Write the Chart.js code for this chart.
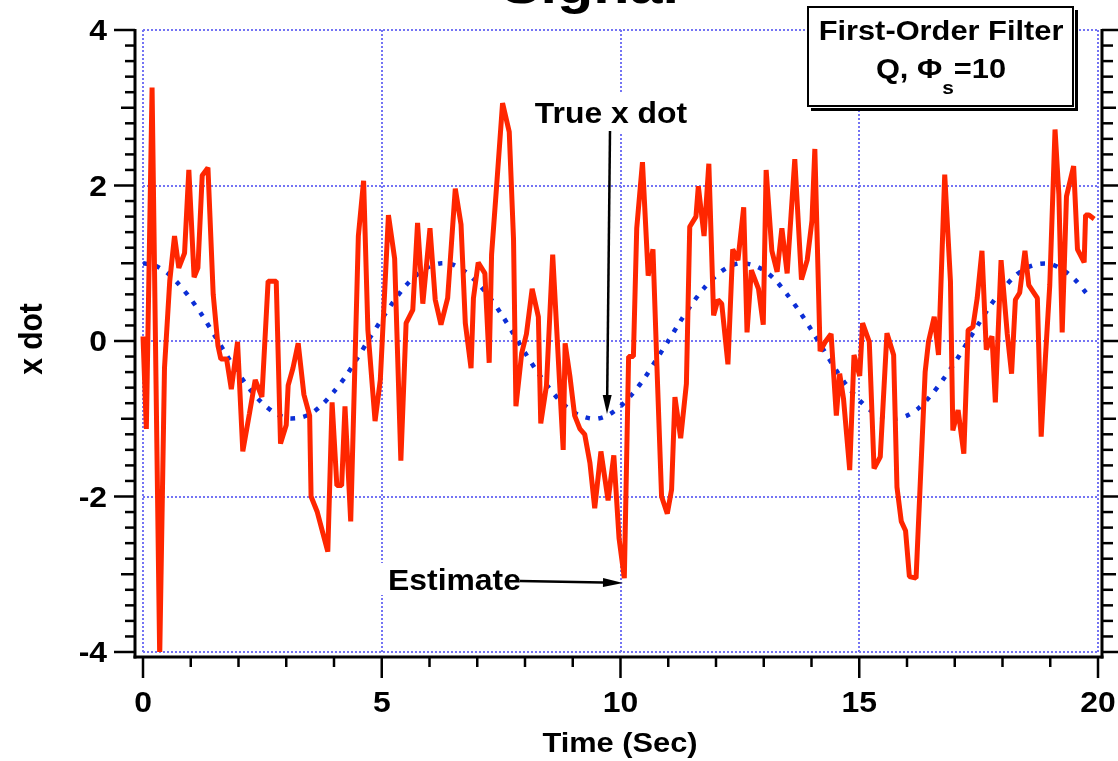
<!DOCTYPE html>
<html>
<head>
<meta charset="utf-8">
<script src="https://cdn.jsdelivr.net/npm/chart.js@4.4.1/dist/chart.umd.min.js"></script>
<style>
  html, body { margin: 0; padding: 0; background: #fff; }
  #wrap { width: 1118px; height: 761px; position: relative; }
</style>
</head>
<body>
<div id="wrap"><canvas id="c"></canvas></div>
<script>
// Filtered estimate of x dot (s) and its values
const estTime = [0.00,0.07,0.19,0.35,0.45,0.56,0.66,0.75,0.87,0.96,
  1.07,1.15,1.24,1.36,1.47,1.57,1.63,1.75,1.85,1.98,
  2.09,2.23,2.35,2.49,2.62,2.79,2.88,3.00,3.04,3.14,
  3.25,3.37,3.49,3.52,3.65,3.87,3.96,4.06,4.16,4.23,
  4.35,4.51,4.62,4.71,4.86,4.97,5.14,5.27,5.40,5.51,
  5.65,5.75,5.86,6.01,6.12,6.24,6.38,6.54,6.66,6.75,
  6.87,6.92,7.02,7.16,7.25,7.30,7.41,7.53,7.67,7.76,
  7.81,7.93,8.03,8.15,8.28,8.33,8.45,8.58,8.80,8.84,
  8.94,9.04,9.15,9.25,9.36,9.46,9.59,9.74,9.86,9.97,
  10.08,10.17,10.27,10.34,10.46,10.58,10.68,10.77,10.86,10.98,
  11.07,11.14,11.26,11.38,11.45,11.58,11.63,11.75,11.85,11.95,
  12.04,12.12,12.25,12.35,12.46,12.58,12.65,12.74,12.89,12.99,
  13.05,13.17,13.28,13.38,13.49,13.65,13.79,13.91,14.01,14.07,
  14.18,14.29,14.41,14.52,14.59,14.67,14.80,14.89,15.01,15.07,
  15.21,15.31,15.44,15.58,15.72,15.79,15.88,15.97,16.05,16.19,
  16.38,16.45,16.57,16.66,16.79,16.91,16.96,17.07,17.19,17.28,
  17.38,17.47,17.57,17.66,17.78,17.85,17.97,18.10,18.19,18.27,
  18.36,18.47,18.55,18.73,18.81,18.90,18.99,19.10,19.18,19.25,
  19.34,19.49,19.57,19.71,19.74,19.81,19.92];
const estValue = [0.06,-1.13,3.26,-4.05,-0.35,0.77,1.35,0.94,1.13,2.20,
  0.82,0.94,2.13,2.23,0.60,-0.06,-0.23,-0.23,-0.62,-0.01,
  -1.42,-0.93,-0.50,-0.72,0.77,0.77,-1.32,-1.08,-0.57,-0.35,
  -0.03,-0.69,-0.96,-2.00,-2.20,-2.71,-0.79,-1.86,-1.86,-0.84,
  -2.32,1.35,2.06,0.14,-1.03,-0.50,1.62,1.06,-1.54,0.23,
  0.40,1.52,0.48,1.45,0.53,0.21,0.55,1.96,1.50,0.23,
  -0.35,0.55,1.01,0.87,-0.28,1.11,2.03,3.06,2.69,1.30,
  -0.84,-0.16,0.09,0.67,0.31,-1.06,-0.57,1.11,-1.40,-0.03,
  -0.45,-0.96,-1.13,-1.20,-1.57,-2.15,-1.42,-2.05,-1.47,-2.54,
  -3.05,-0.20,-0.20,1.45,2.30,0.84,1.18,-0.45,-2.00,-2.22,
  -1.91,-0.72,-1.25,-0.55,1.47,1.60,1.99,1.35,2.28,0.33,
  0.53,0.48,-0.30,1.18,1.04,1.72,0.11,0.91,0.67,0.21,
  2.20,1.16,0.89,1.45,0.87,2.34,0.79,1.04,1.55,2.47,
  -0.13,-0.01,0.09,-0.96,-0.42,-0.74,-1.66,-0.18,-0.45,0.23,
  -0.01,-1.64,-1.49,0.10,-0.18,-1.88,-2.32,-2.44,-3.03,-3.05,
  -0.40,-0.01,0.31,-0.18,2.14,0.77,-1.15,-0.89,-1.45,0.14,
  0.18,0.55,1.16,-0.11,0.06,-0.79,1.04,0.09,-0.42,0.53,
  0.62,1.16,0.72,0.55,-1.23,-0.20,0.72,2.72,1.89,0.11,
  1.86,2.25,1.18,1.01,1.62,1.62,1.57];

// True x dot (s) and its values
const trueTime = [0,0.25,0.5,0.75,1,1.25,1.5,1.75,2,2.25,
  2.5,2.75,3,3.25,3.5,3.75,4,4.25,4.5,4.75,
  5,5.25,5.5,5.75,6,6.25,6.5,6.75,7,7.25,
  7.5,7.75,8,8.25,8.5,8.75,9,9.25,9.5,9.75,
  10,10.25,10.5,10.75,11,11.25,11.5,11.75,12,12.25,
  12.5,12.75,13,13.25,13.5,13.75,14,14.25,14.5,14.75,
  15,15.25,15.5,15.75,16,16.25,16.5,16.75,17,17.25,
  17.5,17.75,18,18.25,18.5,18.75,19,19.25,19.5,19.75];
const trueValue = [1.00,0.97,0.88,0.73,0.54,0.32,0.07,-0.18,-0.42,-0.63,
  -0.80,-0.92,-0.99,-0.99,-0.94,-0.82,-0.65,-0.45,-0.21,0.04,
  0.28,0.51,0.71,0.86,0.96,1.00,0.98,0.89,0.75,0.57,
  0.35,0.10,-0.15,-0.39,-0.60,-0.78,-0.91,-0.98,-1.00,-0.95,
  -0.84,-0.68,-0.48,-0.24,0.00,0.25,0.48,0.68,0.84,0.95,
  1.00,0.98,0.91,0.78,0.59,0.38,0.14,-0.11,-0.36,-0.58,
  -0.76,-0.90,-0.98,-1.00,-0.96,-0.86,-0.70,-0.50,-0.28,-0.03,
  0.22,0.46,0.66,0.83,0.94,0.99,0.99,0.92,0.80,0.62];

// Axis ticks and labels
const xMajorTicks = [0, 5, 10, 15, 20];
const xTickLabels = ['0', '5', '10', '15', '20'];
const yMajorTicks = [-4, -2, 0, 2, 4];
const yTickLabels = ['-4', '-2', '0', '2', '4'];

// Texts
const chartTitle = 'Signal';
const xTitle = 'Time (Sec)';
const yTitle = 'x dot';
const boxLine1 = 'First-Order Filter';
const boxLine2 = ['Q, \u03A6', 's', '=10'];
const noteTrue = 'True x dot';
const noteEst = 'Estimate';

const FONT = '"Liberation Sans", Arial, Helvetica, sans-serif';
const SX = 1.1; // horizontal widening of the lettering

function drawText(ctx, s, x, y, size, align, rot) {
  ctx.save();
  ctx.translate(x, y);
  if (rot) { ctx.rotate(rot); ctx.scale(1, SX); } else { ctx.scale(SX, 1); }
  ctx.font = 'bold ' + size + 'px ' + FONT;
  ctx.textAlign = align;
  ctx.textBaseline = 'alphabetic';
  ctx.fillStyle = '#000';
  ctx.fillText(s, 0, 0);
  ctx.restore();
}
function textWidth(ctx, s, size) {
  ctx.save();
  ctx.font = 'bold ' + size + 'px ' + FONT;
  const w = ctx.measureText(s).width * SX;
  ctx.restore();
  return w;
}
function seg(ctx, x1, y1, x2, y2) {
  ctx.beginPath(); ctx.moveTo(x1, y1); ctx.lineTo(x2, y2); ctx.stroke();
}
function arrow(ctx, x1, y1, x2, y2, len, half) {
  const a = Math.atan2(y2 - y1, x2 - x1);
  const bx = x2 - len * Math.cos(a), by = y2 - len * Math.sin(a);
  ctx.save();
  ctx.strokeStyle = '#000'; ctx.fillStyle = '#000'; ctx.lineWidth = 2.5;
  seg(ctx, x1, y1, bx, by);
  ctx.beginPath();
  ctx.moveTo(x2, y2);
  ctx.lineTo(bx + half * Math.sin(a), by - half * Math.cos(a));
  ctx.lineTo(bx - half * Math.sin(a), by + half * Math.cos(a));
  ctx.closePath(); ctx.fill();
  ctx.restore();
}

// Axes frame, tick marks, labels and notes
const framePlugin = {
  id: 'frame',
  afterDraw(chart) {
    const ctx = chart.ctx;
    const xs = chart.scales.x, ys = chart.scales.y, ca = chart.chartArea;
    const axL = ca.left - 8, axB = ca.bottom + 5, axR = ca.right + 4;
    ctx.save();
    ctx.strokeStyle = '#000';
    ctx.lineCap = 'butt';
    ctx.lineWidth = 3;
    seg(ctx, axL, ca.top - 1, axL, axB + 1.5);
    seg(ctx, axL - 1.5, axB, axR + 1.5, axB);
    seg(ctx, axR, ca.top - 1, axR, axB + 1.5);

    ctx.lineWidth = 2.5;
    for (let k = -20; k <= 20; k++) {
      const py = ys.getPixelForValue(k / 5);
      const major = k % 10 === 0, mid = !major && k % 5 === 0;
      const l = major ? 21 : (mid ? 14 : 10);
      const r = major ? 20 : (mid ? 14 : 11);
      seg(ctx, axL - l, py, axL, py);
      seg(ctx, axR, py, axR + r, py);
    }
    for (let t = 0; t <= 20; t++) {
      const px = xs.getPixelForValue(t);
      seg(ctx, px, axB, px, axB + (t % 5 === 0 ? 21 : 10));
    }
    ctx.restore();

    yMajorTicks.forEach((v, i) => drawText(ctx, yTickLabels[i], ca.left - 36, ys.getPixelForValue(v) + 10, 29, 'right'));
    xMajorTicks.forEach((v, i) => drawText(ctx, xTickLabels[i], xs.getPixelForValue(v), 712, 29, 'center'));

    drawText(ctx, xTitle, 620, 752, 28, 'center');
    drawText(ctx, yTitle, 42, 339, 30, 'center', -Math.PI / 2);
    drawText(ctx, chartTitle, 590, 3, 54, 'center');

    // legend box with drop shadow
    ctx.save();
    ctx.fillStyle = '#000';
    ctx.fillRect(811, 10, 267, 101);
    ctx.fillStyle = '#fff';
    ctx.fillRect(807, 6, 268, 102);
    ctx.strokeStyle = '#000'; ctx.lineWidth = 2;
    ctx.strokeRect(808, 7, 265, 99);
    ctx.restore();
    drawText(ctx, boxLine1, 941, 40, 28, 'center');
    const w1 = textWidth(ctx, boxLine2[0], 28), w2 = textWidth(ctx, boxLine2[1], 19), w3 = textWidth(ctx, boxLine2[2], 28);
    let sx = 941 - (w1 + w2 + w3) / 2;
    drawText(ctx, boxLine2[0], sx, 78, 28, 'left'); sx += w1;
    drawText(ctx, boxLine2[1], sx, 94, 19, 'left'); sx += w2;
    drawText(ctx, boxLine2[2], sx, 78, 28, 'left');

    // notes with arrows
    ctx.save();
    ctx.fillStyle = '#fff';
    ctx.fillRect(531, 93, 161, 39);
    ctx.fillRect(379, 563, 146, 32);
    ctx.restore();
    drawText(ctx, noteTrue, 611, 123, 29, 'center');
    arrow(ctx, 610, 131, 607, 414, 19, 4.5);
    drawText(ctx, noteEst, 388, 590, 29, 'left');
    arrow(ctx, 520, 581, 623, 583, 20, 4.5);
  }
};

const estPoints = estTime.map((t, i) => ({ x: t, y: estValue[i] }));
const truePoints = trueTime.map((t, i) => ({ x: t, y: trueValue[i] }));

const gridColor = '#7474f4';

new Chart(document.getElementById('c'), {
  type: 'line',
  data: {
    datasets: [
      {
        label: noteEst,
        data: estPoints,
        borderColor: '#ff2600',
        borderWidth: 5,
        borderJoinStyle: 'bevel',
        pointRadius: 0,
        tension: 0,
        clip: { left: 4, right: 4, top: 4, bottom: 0 },
        order: 0
      },
      {
        label: noteTrue,
        data: truePoints,
        borderColor: '#0c2ed6',
        borderWidth: 4.5,
        borderDash: [4.5, 8.5],
        borderCapStyle: 'butt',
        pointRadius: 0,
        tension: 0.3,
        order: 1
      }
    ]
  },
  options: {
    responsive: true,
    maintainAspectRatio: false,
    animation: false,
    events: [],
    layout: { padding: { top: 30, right: 20, left: 0, bottom: 0 } },
    plugins: { legend: { display: false }, tooltip: { enabled: false } },
    scales: {
      x: {
        type: 'linear', min: 0, max: 20,
        afterBuildTicks: s => { s.ticks = xMajorTicks.map(v => ({ value: v })); },
        afterFit: s => { s.height = 109; },
        ticks: { display: false },
        grid: { color: gridColor, lineWidth: 2, drawTicks: false },
        border: { display: false, dash: [2, 2] }
      },
      y: {
        type: 'linear', min: -4, max: 4,
        afterBuildTicks: s => { s.ticks = yMajorTicks.map(v => ({ value: v })); },
        afterFit: s => { s.width = 143; },
        ticks: { display: false },
        grid: { color: gridColor, lineWidth: 2, drawTicks: false },
        border: { display: false, dash: [2, 2] }
      }
    }
  },
  plugins: [framePlugin]
});
</script>
</body>
</html>
